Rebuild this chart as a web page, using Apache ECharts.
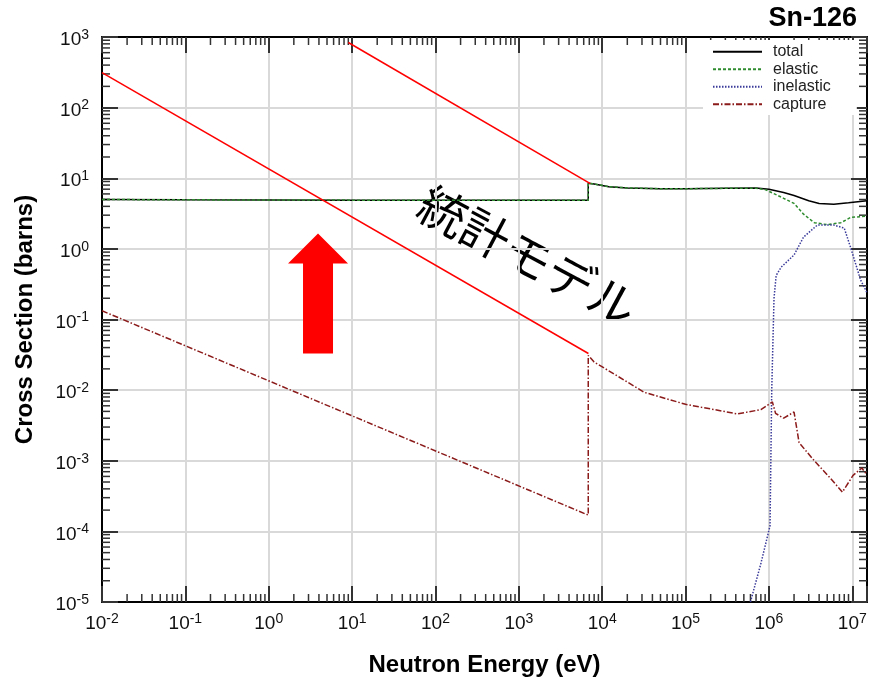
<!DOCTYPE html>
<html>
<head>
<meta charset="utf-8">
<script src="https://cdn.jsdelivr.net/npm/echarts@6/dist/echarts.min.js"></script>
<style>
html, body { margin: 0; padding: 0; background: #fff; }
#chart { width: 869px; height: 679px; }
</style>
</head>
<body>
<div id="chart"></div>
<script>
// neutron energy (eV) / cross section (barns)
const totalE = [0.01, 0.1, 1, 10, 100, 1000, 6800, 6800, 8000, 1.2e4, 2e4, 5e4, 1e5, 3e5, 7e5, 1e6, 1.5e6, 2e6, 3e6, 4e6, 6e6, 9e6, 1.5e7];
const totalXS = [5.0, 4.95, 4.92, 4.9, 4.9, 4.9, 4.9, 8.5, 8.3, 7.6, 7.3, 7.1, 7.1, 7.2, 7.3, 7.0, 6.3, 5.7, 4.8, 4.4, 4.3, 4.5, 4.8];

const elasticE = [0.01, 0.1, 1, 10, 100, 1000, 6800, 6800, 8000, 1.2e4, 2e4, 5e4, 1e5, 3e5, 7e5, 9e5, 1.1e6, 1.5e6, 2e6, 2.6e6, 3.5e6, 5e6, 7.3e6, 9.6e6, 1.5e7];
const elasticXS = [5.0, 4.95, 4.92, 4.9, 4.9, 4.9, 4.9, 8.5, 8.3, 7.6, 7.3, 7.1, 7.1, 7.2, 7.2, 6.9, 6.2, 5.2, 4.4, 3.1, 2.35, 2.2, 2.35, 2.8, 2.9];

const inelasticE = [6e5, 8e5, 1.03e6, 1.08e6, 1.15e6, 1.22e6, 1.4e6, 2e6, 2.6e6, 3.8e6, 6e6, 8e6, 9.5e6, 1.26e7, 1.5e7];
const inelasticXS = [1e-5, 3.5e-5, 1.2e-4, 0.01, 0.2, 0.42, 0.55, 0.82, 1.47, 2.17, 2.17, 1.97, 1.06, 0.36, 0.24];

const captureE = [0.01, 6800, 6800, 8000, 1.5e4, 3.2e4, 1e5, 4.2e5, 8e5, 1.1e6, 1.2e6, 1.5e6, 2e6, 2.3e6, 3.5e6, 5.5e6, 7.6e6, 1.02e7, 1.3e7, 1.5e7];
const captureXS = [0.133, 1.7e-4, 0.031, 0.025, 0.016, 0.0093, 0.0063, 0.0046, 0.0053, 0.0068, 0.0047, 0.004, 0.0049, 0.0018, 0.001, 5.6e-4, 3.6e-4, 6.2e-4, 7.9e-4, 6.3e-4];

// red guide lines and arrow (annotation)
const redLineA = [[0.01, 314], [6830, 0.033]];
const redLineB = [[9.0, 836], [7200, 8.4]];
const arrow = [[3.9, 1.65, 0.62, 0.033]]; // x, tip, neck, base

const xMin = 0.01, xMax = 1.5e7;
const yMin = 1e-5, yMax = 1e3;

const font = '"Liberation Sans", Arial, sans-serif';

const pairs = (xs, ys) => xs.map((x, i) => [x, ys[i]]);

// minor tick positions 2..9 x 10^n
const minorX = [];
for (let n = -2; n <= 7; n++) {
    for (let k = 2; k <= 9; k++) {
        const v = k * Math.pow(10, n);
        if (v < xMax) minorX.push([v, 1]);
    }
}
const minorY = [];
for (let n = -5; n <= 2; n++) {
    for (let k = 2; k <= 9; k++) {
        minorY.push([1, k * Math.pow(10, n)]);
    }
}

const powLabel = (v) => {
    const e = Math.log10(v);
    if (Math.abs(e - Math.round(e)) > 1e-6) return '';
    return '{b|10}{s|' + Math.round(e) + '}';
};

const labelRich = {
    b: { fontSize: 19, lineHeight: 24, color: '#111', fontFamily: font },
    s: { fontSize: 14, lineHeight: 14, verticalAlign: 'top', color: '#111', fontFamily: font }
};

const frameLine = { show: true, lineStyle: { color: '#000', width: 2 } };
const majorTick = { show: true, inside: true, length: 16, lineStyle: { color: '#333', width: 2 } };

const chart = echarts.init(document.getElementById('chart'));

const option = {
    animation: false,
    backgroundColor: '#fff',
    title: {
        text: 'Sn-126',
        right: 12,
        top: 5,
        padding: 0,
        textStyle: { fontSize: 27, fontWeight: 'bold', color: '#000', fontFamily: font }
    },
    grid: {
        left: 102,
        right: 2,
        top: 37,
        bottom: 77,
        containLabel: false,
        outerBoundsMode: 'none'
    },
    legend: {
        data: ['total', 'elastic', 'inelastic', 'capture'],
        orient: 'vertical',
        left: 703,
        top: 40,
        padding: [3, 26, 2, 9],
        backgroundColor: '#fff',
        itemWidth: 49,
        itemHeight: 10,
        itemGap: 0,
        itemStyle: { opacity: 0 },
        textStyle: { fontSize: 16, lineHeight: 17.5, color: '#222', fontFamily: font, padding: [0, 0, 0, 6] }
    },
    xAxis: [
        {
            type: 'log',
            logBase: 10,
            min: xMin,
            max: xMax,
            interval: 1,
            position: 'bottom',
            name: 'Neutron Energy (eV)',
            nameLocation: 'middle',
            nameGap: 51,
            nameMoveOverlap: false,
            nameTextStyle: { fontSize: 24, fontWeight: 'bold', color: '#000', fontFamily: font },
            axisLine: frameLine,
            axisTick: majorTick,
            axisLabel: { margin: 10, formatter: powLabel, rich: labelRich },
            splitLine: { show: true, lineStyle: { color: '#d9d9d9', width: 2 } }
        },
        {
            type: 'log',
            logBase: 10,
            min: xMin,
            max: xMax,
            interval: 1,
            position: 'top',
            axisLine: frameLine,
            axisTick: majorTick,
            axisLabel: { show: false },
            splitLine: { show: false }
        }
    ],
    yAxis: [
        {
            type: 'log',
            logBase: 10,
            min: yMin,
            max: yMax,
            interval: 1,
            position: 'left',
            name: 'Cross Section (barns)',
            nameLocation: 'middle',
            nameGap: 65,
            nameMoveOverlap: false,
            nameTextStyle: { fontSize: 24, fontWeight: 'bold', color: '#000', fontFamily: font },
            axisLine: frameLine,
            axisTick: majorTick,
            axisLabel: { margin: 13, padding: [6, 0, 0, 0], formatter: powLabel, rich: labelRich },
            splitLine: { show: true, lineStyle: { color: '#d9d9d9', width: 2 } }
        },
        {
            type: 'log',
            logBase: 10,
            min: yMin,
            max: yMax,
            interval: 1,
            position: 'right',
            axisLine: frameLine,
            axisTick: majorTick,
            axisLabel: { show: false },
            splitLine: { show: false }
        }
    ],
    series: [
        {
            name: 'total',
            type: 'line',
            symbol: 'none',
            color: '#000',
            lineStyle: { color: '#000', width: 1.5, type: 'solid' },
            data: pairs(totalE, totalXS)
        },
        {
            name: 'elastic',
            type: 'line',
            symbol: 'none',
            color: '#2e8b2e',
            lineStyle: { color: '#2e8b2e', width: 1.5, type: [3, 2] },
            data: pairs(elasticE, elasticXS)
        },
        {
            name: 'inelastic',
            type: 'line',
            symbol: 'none',
            color: '#3a3a9a',
            lineStyle: { color: '#3a3a9a', width: 1.5, type: [1.5, 1.5] },
            data: pairs(inelasticE, inelasticXS)
        },
        {
            name: 'capture',
            type: 'line',
            symbol: 'none',
            color: '#8b1a1a',
            lineStyle: { color: '#8b1a1a', width: 1.5, type: [6, 2, 1.5, 2] },
            data: pairs(captureE, captureXS)
        },
        {
            type: 'line',
            symbol: 'none',
            silent: true,
            lineStyle: { color: '#ff0000', width: 1.5 },
            data: redLineA
        },
        {
            type: 'line',
            symbol: 'none',
            silent: true,
            lineStyle: { color: '#ff0000', width: 1.5 },
            data: redLineB
        },
        {
            type: 'custom',
            silent: true,
            data: arrow,
            renderItem: (params, api) => {
                const x = api.value(0);
                const tip = api.coord([x, api.value(1)]);
                const neck = api.coord([x, api.value(2)]);
                const base = api.coord([x, api.value(3)]);
                const cx = tip[0];
                return {
                    type: 'polygon',
                    shape: {
                        points: [
                            [cx, tip[1]], [cx + 30, neck[1]], [cx + 15, neck[1]],
                            [cx + 15, base[1]], [cx - 15, base[1]], [cx - 15, neck[1]], [cx - 30, neck[1]]
                        ]
                    },
                    style: { fill: '#ff0000' }
                };
            }
        },
        {
            type: 'custom',
            silent: true,
            data: minorX,
            renderItem: (params, api) => {
                const p = api.coord([api.value(0), api.value(1)]);
                const cs = params.coordSys;
                const st = { stroke: '#333', lineWidth: 1.5 };
                return {
                    type: 'group',
                    children: [
                        { type: 'line', shape: { x1: p[0], y1: cs.y + cs.height, x2: p[0], y2: cs.y + cs.height - 8 }, style: st },
                        { type: 'line', shape: { x1: p[0], y1: cs.y, x2: p[0], y2: cs.y + 8 }, style: st }
                    ]
                };
            }
        },
        {
            type: 'custom',
            silent: true,
            data: minorY,
            renderItem: (params, api) => {
                const p = api.coord([api.value(0), api.value(1)]);
                const cs = params.coordSys;
                const st = { stroke: '#333', lineWidth: 1.5 };
                return {
                    type: 'group',
                    children: [
                        { type: 'line', shape: { x1: cs.x, y1: p[1], x2: cs.x + 8, y2: p[1] }, style: st },
                        { type: 'line', shape: { x1: cs.x + cs.width, y1: p[1], x2: cs.x + cs.width - 8, y2: p[1] }, style: st }
                    ]
                };
            }
        }
    ],
    graphic: [
        {
            type: 'text',
            x: 528,
            y: 256,
            rotation: -28 * Math.PI / 180,
            silent: true,
            style: {
                text: '統計モデル',
                font: '48px "Noto Sans CJK JP"',
                fill: '#000',
                align: 'center',
                verticalAlign: 'middle'
            }
        }
    ]
};

chart.setOption(option);
</script>
</body>
</html>
